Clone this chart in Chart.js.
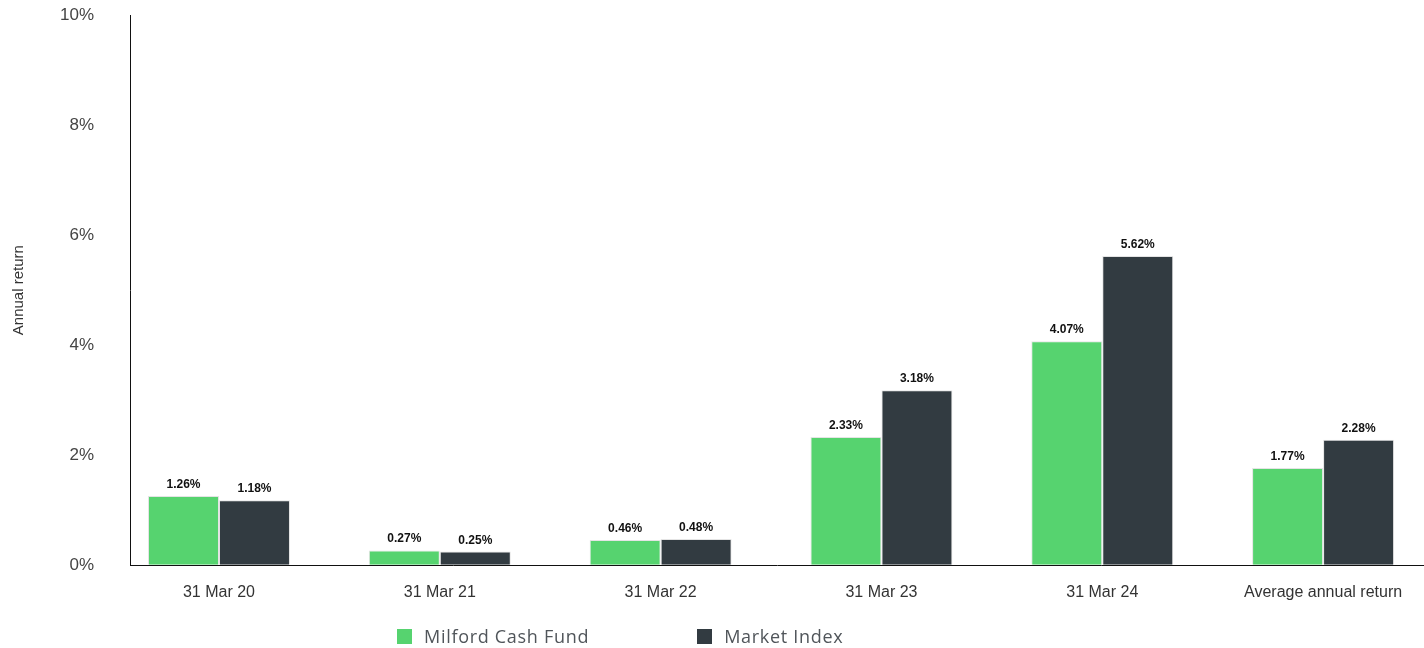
<!DOCTYPE html>
<html>
<head>
<meta charset="utf-8">
<script src="https://cdn.jsdelivr.net/npm/chart.js@4.4.1/dist/chart.umd.min.js"></script>
<style>
  html, body { margin: 0; padding: 0; background: #fff; }
  #wrap { position: relative; width: 1424px; height: 648px; }
  #returnsChart { display: block; }
  #legend {
    position: absolute; left: 397px; top: 624px;
    display: flex; align-items: center; gap: 108px;
    font-family: "Open Sans", sans-serif; font-size: 18px; color: #50555a;
    letter-spacing: 0.7px;
  }
  #legend .item { display: flex; align-items: center; }
  #legend .box { width: 15px; height: 15px; margin-right: 12px; }
</style>
</head>
<body>
<div id="wrap">
  <canvas id="returnsChart" width="1424" height="648"></canvas>
  <div id="legend"></div>
</div>
<script>
// 카테고리 / 시리즈 값
const periods = ['31 Mar 20', '31 Mar 21', '31 Mar 22', '31 Mar 23', '31 Mar 24', 'Average annual return'];
const fundReturns = [1.26, 0.27, 0.46, 2.33, 4.07, 1.77];
const indexReturns = [1.18, 0.25, 0.48, 3.18, 5.62, 2.28];
const yTicks = [0, 2, 4, 6, 8, 10];

const fundColor = '#56d36f';
const indexColor = '#323b41';

const toPoints = (vals) => vals.map((v, i) => ({ x: i, y: v }));

// 막대 위 값 라벨
const valueLabels = {
  id: 'valueLabels',
  afterDatasetsDraw(chart) {
    const ctx = chart.ctx;
    ctx.save();
    ctx.font = 'bold 12px "Liberation Sans", Arial, sans-serif';
    ctx.fillStyle = '#111';
    ctx.textAlign = 'center';
    ctx.textBaseline = 'alphabetic';
    chart.data.datasets.forEach((ds, di) => {
      chart.getDatasetMeta(di).data.forEach((bar, i) => {
        ctx.fillText(ds.data[i].y.toFixed(2) + '%', bar.x, bar.y - 8);
      });
    });
    ctx.restore();
  }
};

const ctx = document.getElementById('returnsChart').getContext('2d');
const chart = new Chart(ctx, {
  type: 'bar',
  data: {
    datasets: [
      {
        label: 'Milford Cash Fund',
        data: toPoints(fundReturns),
        backgroundColor: fundColor,
        borderColor: '#e4e4e4',
        borderWidth: 1,
      },
      {
        label: 'Market Index',
        data: toPoints(indexReturns),
        backgroundColor: indexColor,
        borderColor: '#e4e4e4',
        borderWidth: 1,
      },
    ],
  },
  options: {
    responsive: false,
    animation: false,
    categoryPercentage: 0.643,
    barPercentage: 1,
    layout: { padding: { top: 15, bottom: 27.5, right: 0, left: 0 } },
    plugins: {
      legend: { display: false },
      tooltip: { enabled: false },
    },
    scales: {
      x: {
        type: 'linear',
        offset: false,
        min: -0.403,
        max: 5.457,
        afterBuildTicks: (axis) => {
          axis.ticks = periods.map((_, i) => ({ value: i }));
        },
        grid: { display: false, drawTicks: false },
        border: { display: true, color: '#111', width: 1 },
        ticks: {
          padding: 18,
          maxRotation: 0,
          color: '#333',
          font: { family: '"Liberation Sans", Arial, sans-serif', size: 16 },
          callback: (value) => periods[value],
        },
      },
      y: {
        min: 0,
        max: 10,
        afterBuildTicks: (axis) => {
          axis.ticks = yTicks.map((v) => ({ value: v }));
        },
        afterFit: (axis) => { axis.width = 130; },
        // 눈금선은 투명, 라벨 간격용으로만 사용
        grid: { display: true, color: 'transparent', drawTicks: true, tickLength: 33, tickColor: 'transparent' },
        border: { display: true, color: '#111', width: 1 },
        ticks: {
          padding: 3,
          color: '#444',
          font: { family: '"Liberation Sans", Arial, sans-serif', size: 17 },
          callback: (value) => value + '%',
        },
        title: {
          display: true,
          text: 'Annual return',
          color: '#333',
          padding: { top: 10, bottom: 0 },
          font: { family: '"Liberation Sans", Arial, sans-serif', size: 15 },
        },
      },
    },
  },
  plugins: [valueLabels],
});

// HTML 범례
const legendEl = document.getElementById('legend');
chart.data.datasets.forEach((ds) => {
  const item = document.createElement('div');
  item.className = 'item';
  const box = document.createElement('span');
  box.className = 'box';
  box.style.background = ds.backgroundColor;
  const text = document.createElement('span');
  text.textContent = ds.label;
  item.appendChild(box);
  item.appendChild(text);
  legendEl.appendChild(item);
});
</script>
</body>
</html>
